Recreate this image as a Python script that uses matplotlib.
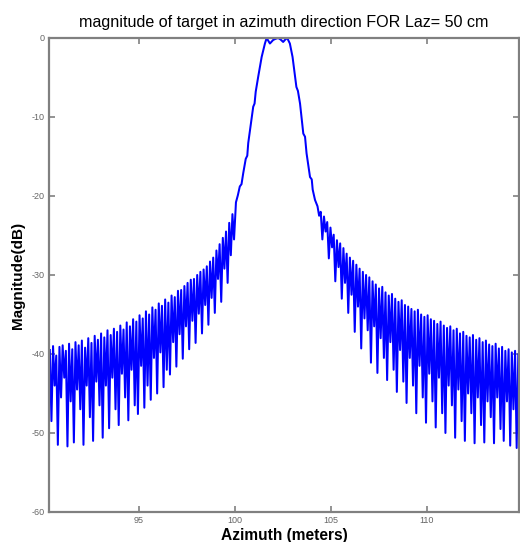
import numpy as np
import matplotlib
matplotlib.use("Agg")
import matplotlib.pyplot as plt

# ---- data ----
left_peaks = [-39.5, -39.0, -40.2, -39.1, -38.9, -39.6,
              -38.7, -39.4, -38.5, -38.9, -38.3, -39.2,
              -38.0, -38.6, -37.7, -38.2, -37.4, -37.9,
              -37.0, -37.6, -36.8, -37.2, -36.4, -36.9,
              -36.0, -36.5, -35.6, -35.9, -35.1, -35.5,
              -34.6, -35.0, -34.1, -34.4, -33.6, -33.9,
              -33.1, -33.5, -32.6, -32.8, -32.0, -31.9,
              -31.4, -31.0, -30.6, -30.5, -30.0, -29.6,
              -29.3, -28.9, -28.3, -27.8, -26.9, -26.1,
              -25.3, -24.5, -23.4, -22.3]
left_troughs = [-48.5, -44.0, -51.5, -45.5, -43.0, -51.7,
                -46.0, -51.2, -44.5, -47.0, -51.5, -44.0,
                -48.0, -51.0, -43.5, -46.5, -50.6, -44.0,
                -49.4, -43.0, -47.0, -49.0, -42.5, -45.5,
                -48.4, -42.0, -46.5, -47.6, -41.5, -46.8,
                -44.0, -45.8, -40.5, -45.0, -39.8, -44.2,
                -42.0, -42.6, -38.5, -41.6, -37.5, -40.6,
                -36.5, -39.4, -35.8, -38.6, -34.9, -37.4,
                -33.8, -36.3, -32.9, -34.8, -30.5, -33.4,
                -29.2, -31.0, -27.5, -25.5]
left_start, left_end = 90.35, 99.95

main_x = [100.05, 100.15, 100.25, 100.34, 100.43, 100.56, 100.64, 100.69,
          100.82, 100.95, 101.02, 101.08, 101.21, 101.39, 101.56, 101.65,
          101.82, 101.99, 102.12, 102.25, 102.38, 102.51, 102.62, 102.72,
          102.86, 103.00, 103.10, 103.20, 103.28, 103.39, 103.56, 103.65,
          103.73, 103.91, 104.00, 104.05, 104.17]
main_y = [-20.8, -19.9, -18.8, -18.5, -17.1, -15.3, -14.9, -13.3,
          -11.0, -8.7, -8.3, -6.8, -4.9, -2.4, -0.7, 0.0,
          -0.7, -0.25, -0.1, 0.0, -0.2, -0.5, -0.2, 0.0,
          -0.7, -2.4, -4.3, -6.2, -6.7, -8.3, -12.1, -12.5,
          -14.6, -17.6, -17.9, -19.2, -20.5]

right_peaks = [-21.3, -22.0, -22.6, -23.3, -24.0, -24.9,
               -25.6, -26.0, -26.6, -27.3, -27.8, -28.2,
               -28.7, -29.2, -29.6, -30.0, -30.3, -30.8,
               -31.2, -31.7, -31.5, -32.2, -32.6, -32.4,
               -33.0, -33.4, -33.2, -33.8, -34.0, -34.3,
               -34.6, -34.4, -35.0, -35.3, -35.1, -35.6,
               -35.8, -36.2, -35.9, -36.4, -36.7, -36.5,
               -37.0, -36.8, -37.4, -37.2, -37.7, -37.9,
               -37.6, -38.2, -38.0, -38.5, -38.3, -38.8,
               -39.0, -38.7, -39.3, -39.1, -39.6, -39.4,
               -39.8, -39.6, -40.0]
right_troughs = [-22.5, -25.5, -24.5, -27.9, -26.5, -30.8,
                 -29.0, -33.0, -31.0, -34.8, -32.5, -37.2,
                 -34.0, -39.3, -35.5, -37.0, -41.1, -36.5,
                 -42.4, -38.0, -40.5, -43.3, -38.5, -42.0,
                 -44.8, -39.5, -43.5, -46.2, -40.5, -44.0,
                 -47.5, -41.5, -45.5, -48.7, -42.5, -46.0,
                 -49.3, -43.0, -47.5, -50.0, -44.0, -46.5,
                 -50.6, -44.5, -48.5, -51.0, -45.0, -47.5,
                 -51.3, -45.5, -49.0, -51.2, -46.0, -48.0,
                 -51.3, -45.5, -49.5, -51.0, -46.0, -51.6,
                 -47.0, -51.9, -46.5]
right_start, right_end = 104.3, 114.85

x_ticks = [95, 100, 105, 110]
y_ticks = [0, -10, -20, -30, -40, -50, -60]
title = "magnitude of target in azimuth direction FOR Laz= 50 cm"
xlabel = "Azimuth (meters)"
ylabel = "Magnitude(dB)"

# ---- build the series ----
def interleave(peaks, troughs):
    out = []
    for p, t in zip(peaks, troughs):
        out += [p, t]
    return out

ly = interleave(left_peaks, left_troughs)
lx = np.linspace(left_start, left_end, len(ly))
ry = interleave(right_peaks, right_troughs)
rx = np.linspace(right_start, right_end, len(ry))

x = np.concatenate([lx, main_x, rx])
y = np.concatenate([ly, main_y, ry])

plt.rcParams['font.family'] = ['Liberation Sans', 'DejaVu Sans']
fig = plt.figure(figsize=(5.2, 5.42), dpi=100)
ax = fig.add_axes([0.094, 0.0554, 0.904, 0.8745])
ax.plot(x, y, color='#0000ff', lw=1.45)
ax.set_xlim(90.3, 114.8)
ax.set_ylim(-60, 0)
ax.set_xticks(x_ticks)
ax.set_yticks(y_ticks)
ax.set_yticklabels([str(v) for v in y_ticks])
grey = '#808080'
for s in ax.spines.values():
    s.set_color(grey)
    s.set_linewidth(1.6)
ax.tick_params(direction='in', length=4, width=1.2, color=grey,
               labelsize=6.5, labelcolor='#666666', top=True, right=True, pad=3)
ax.set_title(title, fontsize=11.6, pad=8)
ax.set_xlabel(xlabel, fontsize=11.2, fontweight='bold', labelpad=2)
ax.set_ylabel(ylabel, fontsize=11, fontweight='bold', labelpad=5)
fig.savefig("out.png", dpi=100)
